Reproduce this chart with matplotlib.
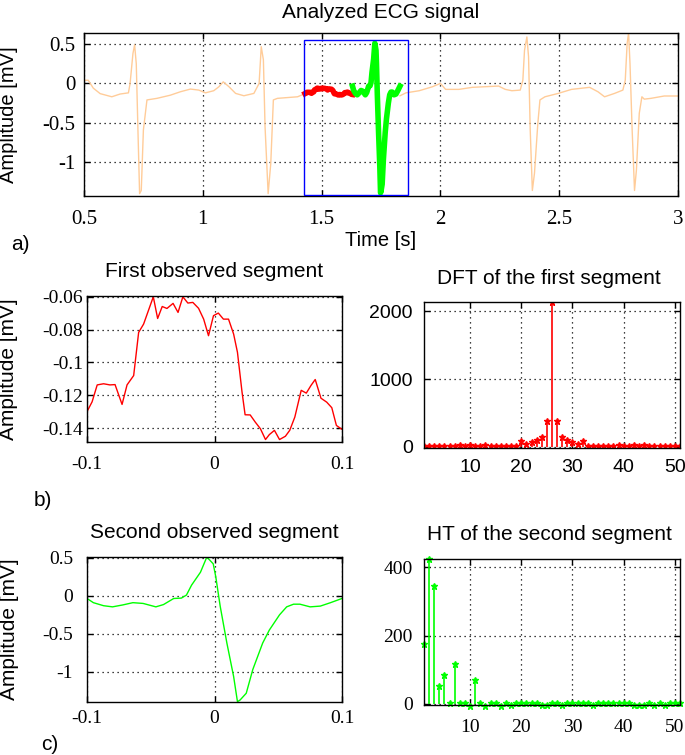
import matplotlib
matplotlib.use("Agg")
import matplotlib.pyplot as plt
from matplotlib.patches import Rectangle
import numpy as np

plt.rcParams['font.family'] = ['Liberation Sans', 'DejaVu Sans']
plt.rcParams['axes.unicode_minus'] = False

# ---------------- data ----------------
# Orange ECG trace (outside the analysed window)
ecg_t_left = [0.500, 0.518, 0.539, 0.568, 0.617, 0.652, 0.687, 0.694, 0.706, 0.713, 0.720, 0.727,
              0.734, 0.741, 0.750, 0.765, 0.807, 0.863, 0.906, 0.948, 0.983, 1.011, 1.046, 1.068,
              1.086, 1.110, 1.138, 1.173, 1.215, 1.237, 1.246, 1.255, 1.262, 1.275, 1.286, 1.297,
              1.314, 1.356, 1.399, 1.430]
ecg_v_left = [0.04, 0.04, -0.06, -0.13, -0.17, -0.135, -0.12, 0.0, 0.38, 0.49, 0.25, -0.59,
              -1.40, -1.36, -0.59, -0.21, -0.19, -0.15, -0.106, -0.072, -0.085, -0.12, -0.093, -0.042,
              0.02, -0.042, -0.127, -0.157, -0.127, 0.0, 0.466, 0.30, -0.55, -1.40, -1.02, -0.21,
              -0.19, -0.18, -0.17, -0.13]
ecg_t_right = [1.830, 1.855, 1.911, 1.967, 2.000, 2.022, 2.078, 2.134, 2.190, 2.245, 2.273, 2.301,
               2.336, 2.347, 2.354, 2.364, 2.371, 2.378, 2.387, 2.396, 2.410, 2.419, 2.440, 2.496,
               2.552, 2.628, 2.663, 2.691, 2.733, 2.768, 2.778, 2.786, 2.792, 2.798, 2.807, 2.817,
               2.825, 2.837, 2.848, 2.858, 2.886, 2.942, 3.000]
ecg_v_right = [-0.157, -0.12, -0.093, -0.042, 0.0, -0.076, -0.076, -0.05, -0.042, -0.034, -0.076, -0.093,
               -0.085, 0.04, 0.42, 0.59, 0.34, -0.59, -1.36, -1.14, -0.51, -0.21, -0.17, -0.127,
               -0.076, -0.05, -0.106, -0.17, -0.127, -0.085, 0.04, 0.51, 0.64, 0.25, -0.59, -1.36,
               -1.10, -0.38, -0.17, -0.20, -0.19, -0.16, -0.16]

# First observed segment (time relative to centre, s)
seg1_t = [-0.100, -0.096, -0.092, -0.087, -0.082, -0.078, -0.0725, -0.0686, -0.0634, -0.0595,
          -0.0556, -0.048, -0.0446, -0.041, -0.0373, -0.0325, -0.0286, -0.0248, -0.0209, -0.017,
          -0.0125, -0.0085, -0.0047, -0.0008, 0.003, 0.007, 0.011, 0.015, 0.018, 0.0216,
          0.024, 0.028, 0.032, 0.036, 0.040, 0.043, 0.047, 0.051, 0.0556, 0.059,
          0.063, 0.068, 0.072, 0.0757, 0.079, 0.0835, 0.088, 0.092, 0.0956, 0.100]
seg1_v = [-0.130, -0.124, -0.1137, -0.113, -0.1137, -0.1135, -0.1256, -0.1137, -0.108, -0.0817,
          -0.0766, -0.060, -0.0732, -0.0659, -0.0671, -0.064, -0.0695, -0.060, -0.0638, -0.0634,
          -0.067, -0.0736, -0.0837, -0.0715, -0.0699, -0.0736, -0.0736, -0.0827, -0.0938, -0.1181,
          -0.1319, -0.132, -0.1364, -0.1404, -0.147, -0.144, -0.1414, -0.147, -0.145, -0.1414,
          -0.1333, -0.117, -0.1187, -0.114, -0.1104, -0.1218, -0.1242, -0.1276, -0.1384, -0.1408]

# Second observed segment
seg2_t = [-0.100, -0.095, -0.087, -0.080, -0.072, -0.064, -0.056, -0.046, -0.040, -0.032,
          -0.026, -0.022, -0.018, -0.011, -0.006, -0.001, 0.001, 0.0045, 0.0097, 0.015,
          0.018, 0.020, 0.0249, 0.030, 0.0378, 0.043, 0.051, 0.0566, 0.062, 0.067,
          0.075, 0.083, 0.091, 0.100]
seg2_v = [-0.035, -0.09, -0.13, -0.145, -0.12, -0.09, -0.10, -0.145, -0.115, -0.035,
          -0.03, 0.01, 0.14, 0.31, 0.51, 0.42, 0.25, -0.14, -0.62, -1.06,
          -1.39, -1.37, -1.28, -0.97, -0.62, -0.45, -0.25, -0.145, -0.11, -0.11,
          -0.145, -0.135, -0.09, -0.035]

seg1_centre = 1.53
seg2_centre = 1.73
window = (1.425, 1.865, -1.42, 0.55)   # t0, t1, amp_min, amp_max

# DFT of the first segment (bins 1..51)
dft_k = list(range(1, 52))
dft_mag = [12, 8, 10, 8, 12, 10, 14, 28, 12, 26, 10, 12, 30, 8, 10, 10, 12, 14, 20,
           83, 49, 69, 103, 152, 387, 2130, 387, 152, 103, 69, 49, 83,
           20, 14, 12, 10, 10, 8, 30, 12, 10, 26, 12, 28, 14, 10, 12, 8, 10, 8, 12]

# HT of the second segment (coefficients 1..51)
ht_k = list(range(1, 52))
ht_val = [175, 424, 344, 54, 85, 2, 117, 3, 2, -5, 71, 3, -6, 3, 3, -5, 3, -3, 2, 3,
          4, 2, 3, -2, -4, 3, 2, -3, 2, 3, 4, 3, 2, -3, 2, 3, 3, 2, 3, 3,
          2, -4, -3, -2, 3, -3, 2, -4, 2, 3, 2]

ORANGE = '#FFCC99'
RED = '#FF0000'
GREEN = '#00FF00'
BLUE = '#0000FF'

W, H = 685, 755
fig = plt.figure(figsize=(W / 100, H / 100), dpi=100)


def box(l, r, t, b):
    return [l / W, 1 - b / H, (r - l) / W, (b - t) / H]


def style(ax, serif=True, size=14, xpad=8, ypad=5):
    ax.grid(True, color='black', linestyle=(0, (1, 3)), linewidth=0.9)
    ax.tick_params(direction='in', top=True, right=True, length=4, width=1,
                   labelsize=size)
    ax.tick_params(axis='x', pad=xpad)
    ax.tick_params(axis='y', pad=ypad)
    for s in ax.spines.values():
        s.set_linewidth(1.0)
        s.set_color('black')
    fam = ['Liberation Serif', 'DejaVu Serif'] if serif else ['Liberation Sans', 'DejaVu Sans']
    for lab in ax.get_xticklabels() + ax.get_yticklabels():
        lab.set_family(fam)


def ftext(x, y, s, size=15, **kw):
    fig.text(x / W, 1 - y / H, s, fontsize=size, ha='center', va='center', **kw)


# ---------------- top panel ----------------
ax0 = fig.add_axes(box(84, 678, 33, 196))
ax0.plot(ecg_t_left, ecg_v_left, color=ORANGE, lw=1.0)
ax0.plot(ecg_t_right, ecg_v_right, color=ORANGE, lw=1.0)
ax0.plot(np.array(seg1_t) + seg1_centre, seg1_v, color=RED, lw=4)
ax0.plot(np.array(seg2_t) + seg2_centre, seg2_v, color=GREEN, lw=4)
ax0.add_patch(Rectangle((window[0], window[2]), window[1] - window[0], window[3] - window[2],
                        fill=False, edgecolor=BLUE, lw=1.0, zorder=5))
ax0.set_xlim(0.5, 3)
ax0.set_ylim(-1.43, 0.64)
ax0.set_xticks([0.5, 1, 1.5, 2, 2.5, 3])
ax0.set_xticklabels(['0.5', '1', '1.5', '2', '2.5', '3'])
ax0.set_yticks([-1, -0.5, 0, 0.5])
ax0.set_yticklabels(['-1', '-0.5', '0', '0.5'])
style(ax0, serif=True, size=15, xpad=10, ypad=6)
ax0.set_ylabel('Amplitude [mV]', fontsize=14.5)
ax0.yaxis.set_label_coords((18 - 84) / 594, 0.5)

ftext(381, 12, 'Analyzed ECG signal', size=15)
ftext(381, 240, 'Time [s]', size=14.5)
ftext(20, 245, 'a)', size=15)

# ---------------- middle left ----------------
ax1 = fig.add_axes(box(87, 342, 296, 442))
ax1.plot(seg1_t, seg1_v, color=RED, lw=1.0)
ax1.set_xlim(-0.1, 0.1)
ax1.set_ylim(-0.1485, -0.0595)
ax1.set_xticks([-0.1, 0, 0.1])
ax1.set_xticklabels(['-0.1', '0', '0.1'])
ax1.set_yticks([-0.14, -0.12, -0.1, -0.08, -0.06])
ax1.set_yticklabels(['-0.14', '-0.12', '-0.1', '-0.08', '-0.06'])
style(ax1, serif=True, size=14, xpad=10, ypad=3)
ax1.set_ylabel('Amplitude [mV]', fontsize=15)
ax1.yaxis.set_label_coords((18 - 87) / 255, 0.5)
ftext(214, 272, 'First observed segment', size=15)
ftext(43, 500, 'b)', size=15)

# ---------------- middle right ----------------
ax2 = fig.add_axes(box(424, 680, 302, 448))
ml, sl, bl = ax2.stem(dft_k, dft_mag, basefmt=' ')
plt.setp(sl, color=RED, linewidth=1.2)
plt.setp(ml, color=RED, marker='*', markersize=5, markeredgewidth=1.0)
ax2.set_xlim(1, 51)
ax2.set_ylim(-15, 2135)
ax2.set_xticks([10, 20, 30, 40, 50])
ax2.set_yticks([0, 1000, 2000])
style(ax2, serif=False, size=14, xpad=8, ypad=8)
ftext(549, 278, 'DFT of the first segment', size=15)

# ---------------- bottom left ----------------
ax3 = fig.add_axes(box(87, 342, 557, 702))
ax3.plot(seg2_t, seg2_v, color=GREEN, lw=1.0)
ax3.set_xlim(-0.1, 0.1)
ax3.set_ylim(-1.395, 0.51)
ax3.set_xticks([-0.1, 0, 0.1])
ax3.set_xticklabels(['-0.1', '0', '0.1'])
ax3.set_yticks([-1, -0.5, 0, 0.5])
ax3.set_yticklabels(['-1', '-0.5', '0', '0.5'])
style(ax3, serif=True, size=14, xpad=6, ypad=10)
ax3.set_ylabel('Amplitude [mV]', fontsize=15)
ax3.yaxis.set_label_coords((19 - 87) / 255, 0.5)
ftext(214, 533, 'Second observed segment', size=15)
ftext(50, 745, 'c)', size=15)

# ---------------- bottom right ----------------
ax4 = fig.add_axes(box(424, 680, 559, 705))
ml, sl, bl = ax4.stem(ht_k, ht_val, basefmt=' ')
plt.setp(sl, color=GREEN, linewidth=1.2)
plt.setp(ml, color=GREEN, marker='*', markersize=5, markeredgewidth=1.0, clip_on=False)
ax4.set_xlim(1, 51)
ax4.set_ylim(-3, 424)
ax4.set_xticks([10, 20, 30, 40, 50])
ax4.set_yticks([0, 200, 400])
style(ax4, serif=True, size=14, xpad=10, ypad=8)
ftext(549, 535, 'HT of the second segment', size=15)

fig.savefig('out.png', dpi=100)
